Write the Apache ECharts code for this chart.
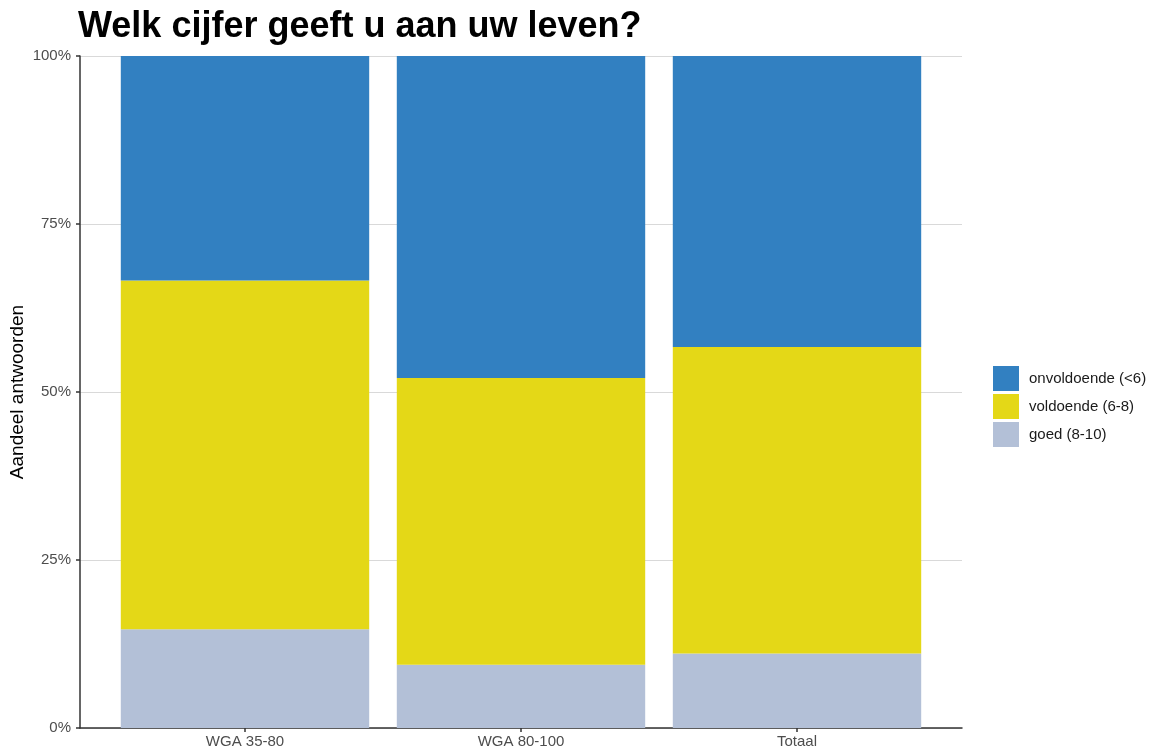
<!DOCTYPE html>
<html>
<head>
<meta charset="utf-8">
<script src="https://cdn.jsdelivr.net/npm/echarts@6/dist/echarts.min.js"></script>
<style>html,body{margin:0;padding:0;background:#fff;}#c{width:1150px;height:753px;}</style>
</head>
<body>
<div id="c"></div>
<script>
const categories = ['WGA 35-80', 'WGA 80-100', 'Totaal'];
const goed = [14.7, 9.4, 11.1];
const voldoende = [51.9, 42.7, 45.6];
const onvoldoende = [33.4, 47.9, 43.3];
const yTicks = [0, 25, 50, 75, 100];

const FONT = 'Liberation Sans';
const chart = echarts.init(document.getElementById('c'), null, {renderer: 'canvas'});
const barCommon = {type: 'bar', stack: 'total', xAxisIndex: 1, yAxisIndex: 1, barWidth: '90%', barGap: '0%'};
chart.setOption({
  animation: false,
  backgroundColor: '#ffffff',
  textStyle: {fontFamily: FONT},
  title: {
    text: 'Welk cijfer geeft u aan uw leven?',
    left: 78, top: 9, padding: 0,
    textStyle: {fontFamily: FONT, fontSize: 36, fontWeight: 'bold', color: '#000'}
  },
  legend: {
    orient: 'vertical', left: 993, top: 366, padding: 0,
    itemWidth: 26, itemHeight: 25, itemGap: 3,
    icon: 'rect',
    data: ['onvoldoende (<6)', 'voldoende (6-8)', 'goed (8-10)'],
    textStyle: {fontFamily: FONT, fontSize: 15, color: '#1a1a1a', padding: [0, 0, 0, 5]}
  },
  grid: [
    {left: 80, right: 188, top: 56, height: 672, outerBoundsMode: 'none', containLabel: false},
    {left: 107, width: 828, top: 56, height: 672, outerBoundsMode: 'none', containLabel: false}
  ],
  xAxis: [
    {gridIndex: 0, type: 'value', min: 0, max: 1,
     axisLine: {show: true, lineStyle: {color: '#333', width: 1.5}},
     axisTick: {show: false}, axisLabel: {show: false}, splitLine: {show: false}},
    {gridIndex: 1, type: 'category', data: categories,
     axisLine: {show: false},
     axisTick: {show: true, alignWithLabel: true, length: 4, lineStyle: {color: '#333', width: 1.5}},
     axisLabel: {fontFamily: FONT, fontSize: 15, color: '#4d4d4d', margin: 6}}
  ],
  yAxis: [
    {gridIndex: 0, type: 'value', min: 0, max: 100, interval: 25,
     name: 'Aandeel antwoorden', nameLocation: 'middle', nameRotate: 90, nameGap: 53,
     nameMoveOverlap: false,
     nameTextStyle: {fontFamily: FONT, fontSize: 19, color: '#000'},
     axisLine: {show: true, lineStyle: {color: '#333', width: 1.5}},
     axisTick: {show: true, length: 4, lineStyle: {color: '#333', width: 1.5}},
     axisLabel: {fontFamily: FONT, fontSize: 15, color: '#4d4d4d', margin: 9,
       formatter: v => yTicks.includes(v) ? v + '%' : ''},
     splitLine: {show: true, lineStyle: {color: '#d9d9d9', width: 1}}},
    {gridIndex: 1, type: 'value', min: 0, max: 100, show: false}
  ],
  series: [
    Object.assign({name: 'goed (8-10)', data: goed, itemStyle: {color: '#b3c0d7'}}, barCommon),
    Object.assign({name: 'voldoende (6-8)', data: voldoende, itemStyle: {color: '#e4d817'}}, barCommon),
    Object.assign({name: 'onvoldoende (<6)', data: onvoldoende, itemStyle: {color: '#3280c1'}}, barCommon)
  ]
});
</script>
</body>
</html>
